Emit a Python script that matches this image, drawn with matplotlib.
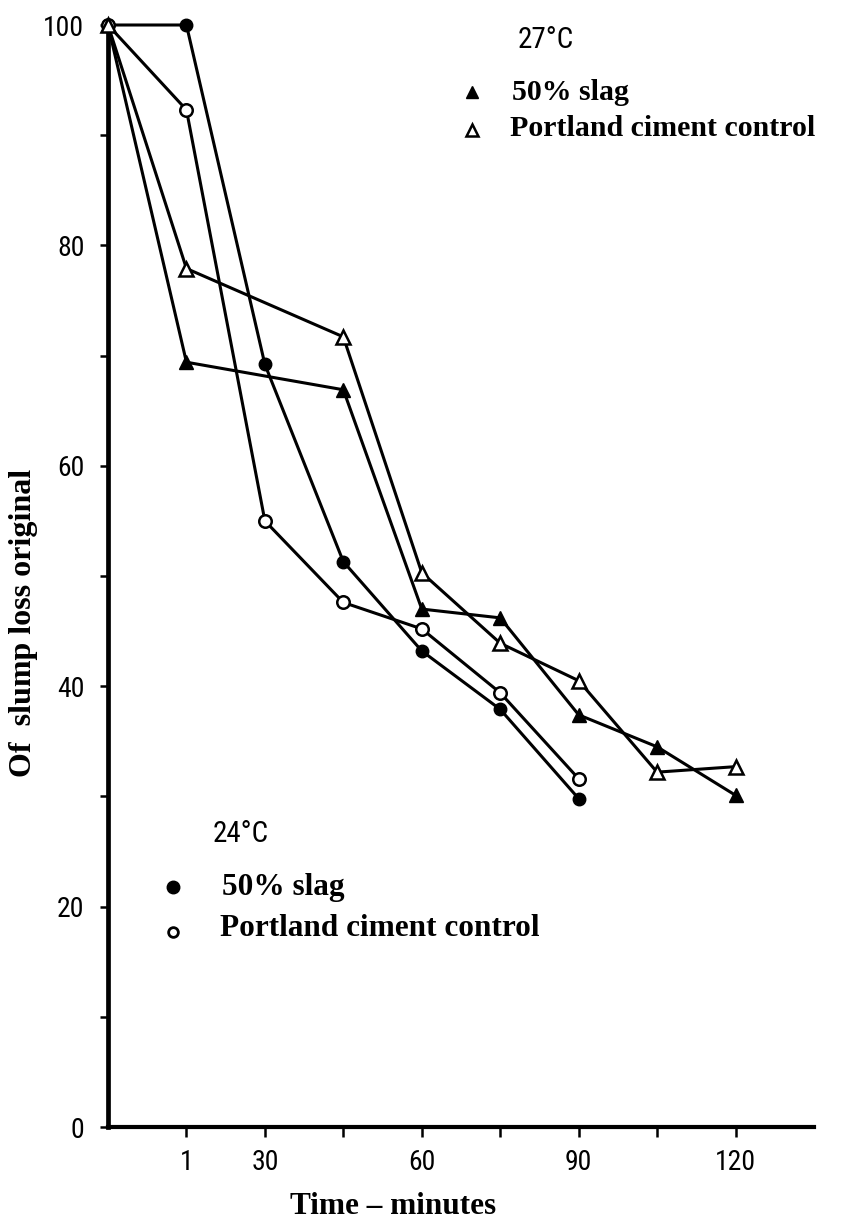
import matplotlib
matplotlib.use("Agg")
import matplotlib.pyplot as plt

# slump (% of original)
time_24 = [0, 15, 30, 45, 60, 75, 90]
slag_24 = [100, 100, 69.2, 51.3, 43.2, 37.9, 29.8]
control_24 = [100, 92.3, 55.0, 47.6, 45.2, 39.4, 31.6]

time_27 = [0, 15, 45, 60, 75, 90, 105, 120]
slag_27 = [100, 69.4, 66.9, 47.0, 46.2, 37.4, 34.5, 30.1]
control_27 = [100, 77.9, 71.7, 50.3, 43.9, 40.5, 32.2, 32.7]

xticks = [15, 30, 45, 60, 75, 90, 105, 120]
xtick_labels = ["1", "30", "", "60", "", "90", "", "120"]
yticks = [0, 10, 20, 30, 40, 50, 60, 70, 80, 90, 100]
ytick_labels = ["0", "", "20", "", "40", "", "60", "", "80", "", "100"]

W, H = 847, 1224
fig = plt.figure(figsize=(W / 100, H / 100), dpi=100)


def fx(px):
    return px / W


def fy(py):
    return 1 - py / H


L, R, T, B = 108, 814, 25, 1127
ax = fig.add_axes([fx(L), fy(B), fx(R) - fx(L), fy(T) - fy(B)])

narrow = ["Liberation Sans Narrow", "Roboto Condensed", "Liberation Sans"]
serif = ["Liberation Serif", "DejaVu Serif"]

lw = 2.2
ax.plot(time_24, slag_24, color="black", lw=lw, marker="o", ms=9,
        mfc="black", mec="black", clip_on=False, zorder=3)
ax.plot(time_24, control_24, color="black", lw=lw, marker="o", ms=9,
        mfc="white", mec="black", mew=1.8, clip_on=False, zorder=3)
ax.plot(time_27, slag_27, color="black", lw=lw, marker="^", ms=10,
        mfc="black", mec="black", clip_on=False, zorder=3)
ax.plot(time_27, control_27, color="black", lw=lw, marker="^", ms=10,
        mfc="white", mec="black", mew=1.8, clip_on=False, zorder=3)

ax.set_xlim(0, 135)
ax.set_ylim(0, 100)
for side in ["top", "right"]:
    ax.spines[side].set_visible(False)
ax.spines["left"].set_linewidth(3.4)
ax.spines["bottom"].set_linewidth(3.0)

ax.set_xticks(xticks)
ax.set_xticklabels(xtick_labels, fontfamily=narrow, fontstretch="condensed",
                   fontsize=20)
ax.set_yticks(yticks)
ax.set_yticklabels(ytick_labels, fontfamily=narrow, fontstretch="condensed",
                   fontsize=20)
ax.tick_params(axis="x", length=7, width=1.8, pad=9)
ax.tick_params(axis="y", length=6, width=1.8, pad=11)

ax.set_ylabel("Of  slump loss original", fontfamily=serif, fontweight="bold",
              fontsize=23)
ax.yaxis.set_label_coords((24 - L) / (R - L), (B - 623) / (B - T))
ax.set_xlabel("Time – minutes", fontfamily=serif, fontweight="bold", fontsize=22.5)
ax.xaxis.set_label_coords((393 - L) / (R - L), (B - 1207) / (B - T))
ax.xaxis.label.set_va("center")
ax.yaxis.label.set_va("center")

# 27 C key
fig.text(fx(518), fy(40), "27°C", fontfamily=narrow, fontstretch="condensed",
         fontsize=21, va="center")
ax.plot([fx(472)], [fy(92)], transform=fig.transFigure, marker="^", ms=8,
        color="black", clip_on=False)
ax.plot([fx(472)], [fy(130)], transform=fig.transFigure, marker="^", ms=8,
        mfc="white", mec="black", mew=1.8, clip_on=False)
fig.text(fx(512), fy(92), "50% slag", fontfamily=serif, fontweight="bold",
         fontsize=21.5, va="center")
fig.text(fx(510), fy(129), "Portland ciment control", fontfamily=serif,
         fontweight="bold", fontsize=21.5, va="center")

# 24 C key
fig.text(fx(213), fy(834), "24°C", fontfamily=narrow, fontstretch="condensed",
         fontsize=21, va="center")
ax.plot([fx(173)], [fy(887)], transform=fig.transFigure, marker="o", ms=9,
        color="black", clip_on=False)
ax.plot([fx(173)], [fy(932)], transform=fig.transFigure, marker="o", ms=7,
        mfc="white", mec="black", mew=2.0, clip_on=False)
fig.text(fx(222), fy(887), "50% slag", fontfamily=serif, fontweight="bold",
         fontsize=22.5, va="center")
fig.text(fx(220), fy(929), "Portland ciment control", fontfamily=serif,
         fontweight="bold", fontsize=22.5, va="center")

fig.savefig("out.png", dpi=100)
